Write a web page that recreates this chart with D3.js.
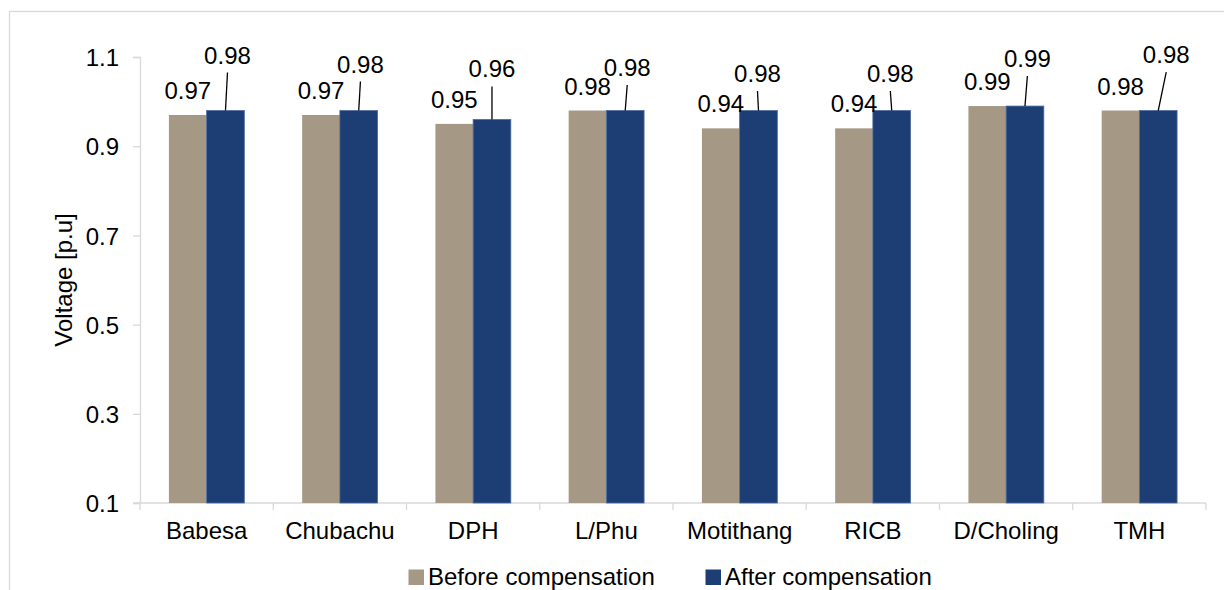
<!DOCTYPE html>
<html>
<head>
<meta charset="utf-8">
<script src="https://cdn.jsdelivr.net/npm/d3@7/dist/d3.min.js"></script>
<style>
  html, body { margin: 0; padding: 0; background: #fff; }
  svg { display: block; font-family: "Liberation Sans", Arial, sans-serif; }
</style>
</head>
<body>
<svg id="chart" width="1224" height="590"></svg>
<script>
// Substations
const categories = ["Babesa", "Chubachu", "DPH", "L/Phu", "Motithang", "RICB", "D/Choling", "TMH"];
// Bus voltage in per unit
const beforeValues = [0.97, 0.97, 0.95, 0.98, 0.94, 0.94, 0.99, 0.98];
const afterValues  = [0.98, 0.98, 0.96, 0.98, 0.98, 0.98, 0.99, 0.98];
const seriesNames = ["Before compensation", "After compensation"];
const yTicks = [0.1, 0.3, 0.5, 0.7, 0.9, 1.1];
const yTickLabels = ["0.1", "0.3", "0.5", "0.7", "0.9", "1.1"];

// Placement of the "after" data labels (dx, height above bar top), with leader lines
const afterLabelShift = [[2, 47], [1.7, 38], [0, 42], [2, 34.5], [-1, 28.5], [-1.4, 28.5], [2.4, 39], [8, 47.5]];

const colors = { before: "#A59885", after: "#1C3E75" };
const axisColor = "#D9D9D9";

const svg = d3.select("#chart");

// outer chart frame
svg.append("rect")
  .attr("x", 9.5).attr("y", 11.5)
  .attr("width", 1400).attr("height", 800)
  .attr("fill", "none").attr("stroke", axisColor).attr("stroke-width", 1.3);

const plot = { left: 140, right: 1206, top: 57, bottom: 503 };

const x = d3.scaleBand().domain(categories).range([plot.left, plot.right]).padding(0);
const xs = d3.scaleBand().domain(["before", "after"]).range([0, x.bandwidth()])
  .paddingInner(0).paddingOuter(0.767);
const y = d3.scaleLinear().domain([0.1, 1.1]).range([plot.bottom, plot.top]);

const font = 24;

// y axis
const yAxis = d3.axisLeft(y).tickValues(yTicks)
  .tickFormat((d, i) => yTickLabels[i]).tickSize(7).tickPadding(14);
const gy = svg.append("g").attr("transform", `translate(${plot.left},0)`).call(yAxis);
gy.select(".domain").attr("stroke", axisColor).attr("stroke-width", 1.3);
gy.selectAll(".tick line").attr("stroke", axisColor).attr("stroke-width", 1.3);
gy.selectAll(".tick text")
  .attr("font-size", font).attr("fill", "#000")
  .attr("font-family", "Liberation Sans, Arial, sans-serif")
  .attr("dy", "0.36em");

// x axis: baseline with ticks on category boundaries
svg.append("line")
  .attr("x1", plot.left - 7).attr("x2", plot.right)
  .attr("y1", plot.bottom).attr("y2", plot.bottom)
  .attr("stroke", axisColor).attr("stroke-width", 1.3);
const bounds = categories.map(c => x(c)).concat([plot.right]);
svg.append("g").selectAll("line").data(bounds).join("line")
  .attr("x1", d => d).attr("x2", d => d)
  .attr("y1", plot.bottom).attr("y2", plot.bottom + 7)
  .attr("stroke", axisColor).attr("stroke-width", 1.3);

const xAxis = d3.axisBottom(x).tickSize(0).tickPadding(19);
const gx = svg.append("g").attr("transform", `translate(0,${plot.bottom})`).call(xAxis);
gx.select(".domain").remove();
gx.selectAll(".tick text")
  .attr("font-size", font).attr("fill", "#000")
  .attr("font-family", "Liberation Sans, Arial, sans-serif");

// y axis title
svg.append("text")
  .attr("transform", "translate(72,280) rotate(-90)")
  .attr("text-anchor", "middle")
  .attr("font-size", font).attr("fill", "#000")
  .text("Voltage [p.u]");

// bars
const rows = categories.map((c, i) => ({ c, i, before: beforeValues[i], after: afterValues[i] }));
const groups = svg.append("g").selectAll("g").data(rows).join("g")
  .attr("transform", d => `translate(${x(d.c)},0)`);

groups.append("rect")
  .attr("x", xs("before")).attr("width", xs.bandwidth())
  .attr("y", d => y(d.before)).attr("height", d => y(0.1) - y(d.before))
  .attr("fill", colors.before);

groups.append("rect")
  .attr("x", xs("after")).attr("width", xs.bandwidth())
  .attr("y", d => y(d.after)).attr("height", d => y(0.1) - y(d.after))
  .attr("fill", colors.after)
  .attr("stroke", "#4F6C9E").attr("stroke-width", 0.8);

// "before" data labels
groups.append("text")
  .attr("x", xs("before") + xs.bandwidth() / 2)
  .attr("y", d => y(d.before) - 16)
  .attr("text-anchor", "middle")
  .attr("font-size", font).attr("fill", "#000")
  .text(d => d.before.toFixed(2));

// "after" data labels with leader lines
const afterCx = xs("after") + xs.bandwidth() / 2;
groups.append("line")
  .attr("x1", d => afterCx + afterLabelShift[d.i][0])
  .attr("y1", d => y(d.after) - afterLabelShift[d.i][1] + 9)
  .attr("x2", afterCx)
  .attr("y2", d => y(d.after))
  .attr("stroke", "#000").attr("stroke-width", 1.3);

groups.append("text")
  .attr("x", d => afterCx + afterLabelShift[d.i][0])
  .attr("y", d => y(d.after) - afterLabelShift[d.i][1])
  .attr("text-anchor", "middle")
  .attr("font-size", font).attr("fill", "#000")
  .text(d => d.after.toFixed(2));

// legend
const legendItems = [
  { name: seriesNames[0], color: colors.before, x: 408.5 },
  { name: seriesNames[1], color: colors.after, x: 705.5 }
];
const lg = svg.append("g").selectAll("g").data(legendItems).join("g")
  .attr("transform", d => `translate(${d.x},569.5)`);
lg.append("rect").attr("width", 15.5).attr("height", 15.5).attr("fill", d => d.color);
lg.append("text").attr("x", 19.5).attr("y", 15)
  .attr("font-size", font).attr("fill", "#000")
  .text(d => d.name);
</script>
</body>
</html>
